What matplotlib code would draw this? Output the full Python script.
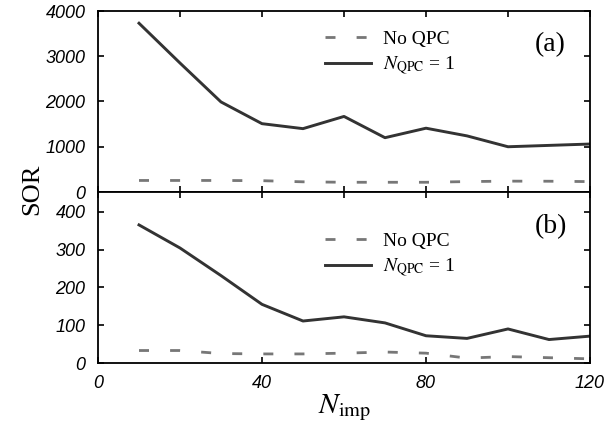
import numpy as np
import matplotlib
matplotlib.use('Agg')
import matplotlib.pyplot as plt

plt.rcParams['mathtext.fontset'] = 'stix'
plt.rcParams['font.family'] = ['Liberation Serif', 'DejaVu Serif']

# data
n_imp = [10, 20, 30, 40, 50, 60, 70, 80, 90, 100, 110, 120]
sor_a_noqpc = [255, 255, 255, 250, 225, 215, 215, 215, 230, 240, 238, 230]
sor_a_qpc1 = [3730, 2850, 1990, 1510, 1400, 1670, 1200, 1410, 1240, 1000, 1030, 1060]
sor_b_noqpc = [33, 33, 25, 24, 24, 26, 29, 26, 13, 17, 14, 11]
sor_b_qpc1 = [365, 304, 231, 155, 111, 122, 106, 72, 65, 90, 62, 71]

labels_a = ['(a)', '(b)']
legend_labels = ['No QPC', r'$N_{\mathrm{QPC}}$ = 1']

W, H = 610, 436
fig = plt.figure(figsize=(W / 100., H / 100.), dpi=100)
left, right = 98. / W, 590. / W
ax1 = fig.add_axes([left, 1 - 192. / H, right - left, (192. - 11) / H])
ax2 = fig.add_axes([left, 1 - 363. / H, right - left, (363. - 192) / H])

dark = '#333333'
gray = '#777777'
tickfont = {'family': 'Liberation Sans', 'style': 'italic', 'size': 13}


def draw(ax, noqpc, qpc1, tag, leg_y, tag_y):
    ax.plot(n_imp, noqpc, color=gray, lw=2.0, dashes=[3.6, 7.6], label=legend_labels[0])
    ax.plot(n_imp, qpc1, color=dark, lw=2.1, label=legend_labels[1])
    ax.legend(loc='center left', bbox_to_anchor=(0.461, leg_y), frameon=False,
              fontsize=14, handlelength=2.4, handletextpad=0.6,
              labelspacing=0.35, borderpad=0, borderaxespad=0)
    ax.text(0.92, tag_y, tag, transform=ax.transAxes, fontsize=20,
            ha='center', va='center')
    ax.set_xlim(0, 120)
    for s in ax.spines.values():
        s.set_linewidth(1.3)
    ax.tick_params(which='both', direction='in', length=4, width=1.2,
                   top=True, right=True)


draw(ax1, sor_a_noqpc, sor_a_qpc1, labels_a[0], 0.765, 0.812)
draw(ax2, sor_b_noqpc, sor_b_qpc1, labels_a[1], 0.629, 0.80)

ax1.set_ylim(0, 4000)
ax1.set_yticks([0, 1000, 2000, 3000, 4000])
ax1.set_xticks(np.arange(0, 121, 20))
ax1.set_xticklabels([])

ax2.set_ylim(0, 452)
ax2.set_yticks([0, 100, 200, 300, 400])
ax2.set_xticks([0, 40, 80, 120])
ax2.set_xticks([20, 60, 100], minor=True)
ax2.tick_params(which='minor', bottom=False, top=True)
ax2.tick_params(axis='x', pad=9)

for ax in (ax1, ax2):
    ax.tick_params(axis='y', pad=9)
    for lab in ax.get_yticklabels() + ax.get_xticklabels():
        lab.set_fontproperties(tickfont)

fig.text(32. / W, 1 - 189. / H, 'SOR', rotation=90, fontsize=19,
         ha='center', va='center')
fig.text(345. / W, 1 - 408. / H, r'$N_{\mathrm{imp}}$', fontsize=21,
         ha='center', va='center')

fig.savefig('out.png', dpi=100)
